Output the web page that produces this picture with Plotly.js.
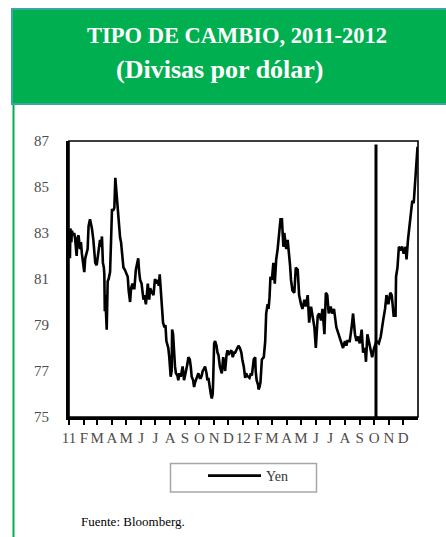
<!DOCTYPE html>
<html>
<head>
<meta charset="utf-8">
<script src="https://cdn.plot.ly/plotly-3.0.1.min.js"></script>
<style>
  html, body { margin: 0; padding: 0; background: #ffffff; }
  #chart { width: 446px; height: 537px; }
</style>
</head>
<body>
<div id="chart"></div>
<script>
// ---------------- DATA ----------------
const seriesName = 'Yen';
const dates = [
  '2011-01-03','2011-01-04','2011-01-06','2011-01-07','2011-01-10','2011-01-12','2011-01-14','2011-01-17','2011-01-19','2011-01-21',
  '2011-01-24','2011-01-26','2011-01-28','2011-02-01','2011-02-02','2011-02-04','2011-02-07','2011-02-09','2011-02-11','2011-02-14',
  '2011-02-16','2011-02-18','2011-02-21','2011-02-23','2011-02-25','2011-02-28','2011-03-02','2011-03-04','2011-03-07','2011-03-09',
  '2011-03-11','2011-03-13','2011-03-15','2011-03-16','2011-03-17','2011-03-18','2011-03-21','2011-03-23','2011-03-25','2011-03-28',
  '2011-03-30','2011-04-01','2011-04-04','2011-04-06','2011-04-08','2011-04-11','2011-04-13','2011-04-15','2011-04-18','2011-04-20',
  '2011-04-22','2011-04-25','2011-04-28','2011-04-30','2011-05-02','2011-05-04','2011-05-06','2011-05-09','2011-05-11','2011-05-14',
  '2011-05-16','2011-05-18','2011-05-21','2011-05-23','2011-05-26','2011-05-28','2011-05-30','2011-06-02','2011-06-04','2011-06-06',
  '2011-06-08','2011-06-11','2011-06-13','2011-06-15','2011-06-18','2011-06-20','2011-06-22','2011-06-24','2011-06-27','2011-06-30',
  '2011-07-03','2011-07-06','2011-07-08','2011-07-10','2011-07-12','2011-07-14','2011-07-17','2011-07-20','2011-07-22','2011-07-24',
  '2011-07-28','2011-07-30','2011-08-01','2011-08-02','2011-08-04','2011-08-05','2011-08-07','2011-08-09','2011-08-11','2011-08-13',
  '2011-08-16','2011-08-18','2011-08-20','2011-08-23','2011-08-25','2011-08-27','2011-08-30','2011-09-01','2011-09-03','2011-09-06',
  '2011-09-08','2011-09-11','2011-09-13','2011-09-15','2011-09-18','2011-09-20','2011-09-22','2011-09-24','2011-09-27','2011-09-29',
  '2011-10-02','2011-10-04','2011-10-06','2011-10-08','2011-10-11','2011-10-13','2011-10-16','2011-10-18','2011-10-20','2011-10-22',
  '2011-10-25','2011-10-27','2011-10-29','2011-10-30','2011-11-01','2011-11-03','2011-11-06','2011-11-08','2011-11-10','2011-11-13',
  '2011-11-15','2011-11-17','2011-11-20','2011-11-22','2011-11-24','2011-11-27','2011-11-29','2011-12-01','2011-12-04','2011-12-07',
  '2011-12-10','2011-12-13','2011-12-15','2011-12-17','2011-12-19','2011-12-22','2011-12-25','2011-12-28','2011-12-30','2012-01-02',
  '2012-01-05','2012-01-07','2012-01-09','2012-01-12','2012-01-14','2012-01-17','2012-01-19','2012-01-23','2012-01-26','2012-01-27',
  '2012-01-29','2012-02-01','2012-02-02','2012-02-04','2012-02-06','2012-02-09','2012-02-13','2012-02-16','2012-02-18','2012-02-21',
  '2012-02-23','2012-02-25','2012-02-27','2012-03-01','2012-03-04','2012-03-07','2012-03-10','2012-03-13','2012-03-16','2012-03-19',
  '2012-03-22','2012-03-25','2012-03-27','2012-03-28','2012-03-31','2012-04-03','2012-04-06','2012-04-08','2012-04-10','2012-04-13',
  '2012-04-17','2012-04-20','2012-04-24','2012-04-27','2012-05-01','2012-05-04','2012-05-08','2012-05-11','2012-05-15','2012-05-18',
  '2012-05-22','2012-05-25','2012-05-29','2012-06-01','2012-06-05','2012-06-08','2012-06-12','2012-06-15','2012-06-19','2012-06-22',
  '2012-06-25','2012-06-28','2012-07-02','2012-07-05','2012-07-09','2012-07-14','2012-07-19','2012-07-23','2012-07-28','2012-08-01',
  '2012-08-04','2012-08-06','2012-08-11','2012-08-15','2012-08-18','2012-08-22','2012-08-25','2012-08-29','2012-09-01','2012-09-05',
  '2012-09-08','2012-09-12','2012-09-14','2012-09-17','2012-09-20','2012-09-24','2012-09-27','2012-10-01','2012-10-06','2012-10-11',
  '2012-10-15','2012-10-20','2012-10-24','2012-10-27','2012-10-31','2012-11-04','2012-11-07','2012-11-11','2012-11-15','2012-11-16',
  '2012-11-19','2012-11-22','2012-11-26','2012-11-29','2012-12-02','2012-12-06','2012-12-08','2012-12-11','2012-12-15','2012-12-17',
  '2012-12-20','2012-12-23','2012-12-26','2012-12-28','2012-12-31'
];
const yen = [
  81.9,83.2,82.6,83.1,82.9,83.0,82.7,82.0,82.8,82.9,
  82.3,82.6,82.1,81.5,81.3,81.9,82.2,82.3,83.3,83.6,
  83.4,83.2,82.7,82.0,81.7,81.6,82.0,82.3,82.7,82.4,
  82.85,81.7,81.5,81.2,79.6,80.3,78.8,80.9,81.0,81.3,
  82.6,84.0,84.0,84.1,85.4,84.6,83.8,83.3,82.8,82.6,
  82.0,81.5,81.4,81.3,81.2,81.1,80.5,80.0,80.6,80.8,
  80.6,80.6,81.4,81.6,81.9,81.3,80.96,80.8,80.5,80.1,
  80.3,79.9,80.3,80.8,80.1,80.6,80.5,80.4,80.3,81.0,
  80.8,80.96,80.7,81.2,80.6,80.4,79.1,78.9,79.0,78.3,
  78.0,77.6,77.2,76.75,77.0,78.8,78.6,77.6,77.2,76.9,
  76.8,76.6,76.9,76.75,77.0,77.2,76.6,76.8,76.9,77.3,
  77.6,77.5,77.2,76.75,76.6,76.3,76.5,76.6,76.8,76.9,
  76.7,76.7,76.8,77.0,77.1,77.2,76.9,76.6,76.7,76.3,
  76.0,75.8,76.0,76.6,78.2,78.3,78.1,77.8,77.7,77.2,
  77.0,76.9,77.6,77.3,77.0,77.7,77.9,77.7,77.8,77.9,
  77.6,77.8,77.8,77.9,78.0,78.1,78.0,77.8,77.5,77.2,
  76.7,76.9,76.8,76.75,76.7,76.9,76.8,77.5,77.6,77.0,
  76.6,76.4,76.2,76.3,76.5,77.5,77.6,78.3,79.5,79.9,
  79.7,80.2,81.1,80.96,81.7,80.8,81.85,82.3,83.1,83.6,
  83.6,82.4,83.0,82.8,82.3,82.7,82.1,81.6,80.96,80.5,
  80.4,81.5,81.4,80.3,79.9,79.7,80.1,79.8,80.3,79.1,
  79.8,79.4,78.9,78.0,79.4,79.5,79.2,79.7,78.6,80.4,
  80.3,79.5,79.8,79.5,79.7,78.9,78.6,78.3,78.0,78.3,
  78.1,78.3,78.3,78.9,79.5,78.6,78.3,78.5,78.2,78.8,
  77.8,78.0,77.4,78.6,78.3,77.8,77.6,78.0,78.3,78.2,
  78.5,79.2,79.7,80.3,79.9,80.4,80.3,79.4,79.4,81.1,
  81.5,82.4,82.3,82.4,82.1,82.4,81.85,82.7,83.4,83.6,
  84.4,84.3,85.2,85.9,86.75
];
const monthLabels = ['11','F','M','A','M','J','J','A','S','O','N','D',
                     '12','F','M','A','M','J','J','A','S','O','N','D'];
const years = [2011, 2012];
const yTicks = [75, 77, 79, 81, 83, 85, 87];
const markerDate = '2012-10-05';
const titleLine1 = 'TIPO DE CAMBIO, 2011-2012';
const titleLine2 = '(Divisas por dólar)';
const sourceText = 'Fuente: Bloomberg.';

// ---------------- LAYOUT HELPERS ----------------
const W = 446, H = 537;
const M = { l: 69, r: 28, t: 141, b: 120 };
const PW = W - M.l - M.r, PH = H - M.t - M.b;
const px = x => (x - M.l) / PW;        // pixel x -> paper
const py = y => (H - M.b - y) / PH;    // pixel y -> paper

const tickVals = [];
years.forEach(yr => { for (let m = 1; m <= 12; m++) tickVals.push(yr + '-' + String(m).padStart(2, '0') + '-01'); });

const serif = 'Liberation Serif';
const green = '#00b050';

const trace = {
  x: dates, y: yen, type: 'scatter', mode: 'lines', name: seriesName,
  line: { color: '#000000', width: 2.6 }, showlegend: true
};

const layout = {
  width: W, height: H,
  margin: M,
  paper_bgcolor: '#ffffff', plot_bgcolor: '#ffffff',
  font: { family: serif },
  showlegend: true,
  legend: {
    x: px(203), y: py(476), xanchor: 'left', yanchor: 'middle',
    bgcolor: 'rgba(0,0,0,0)', borderwidth: 0,
    font: { family: serif, size: 14, color: '#333333' },
    itemwidth: 53
  },
  xaxis: {
    type: 'date', range: ['2011-01-01', '2013-01-01'],
    tickmode: 'array', tickvals: tickVals, ticktext: monthLabels,
    tickangle: 0,
    ticks: 'outside', ticklen: 5, tickwidth: 2, tickcolor: '#000000',
    showgrid: false, zeroline: false,
    showline: true, linecolor: '#000000', linewidth: 2.5,
    tickfont: { family: serif, size: 15, color: '#4d4d4d' }
  },
  yaxis: {
    range: [75, 87], tickmode: 'array', tickvals: yTicks,
    ticks: 'outside', ticklen: 14, tickcolor: 'rgba(0,0,0,0)',
    showgrid: false, zeroline: false,
    showline: true, linecolor: '#000000', linewidth: 3,
    tickfont: { family: serif, size: 15, color: '#4d4d4d' }
  },
  shapes: [
    // header band
    { type: 'rect', xref: 'paper', yref: 'paper', x0: px(12), x1: px(448), y0: py(104), y1: py(9),
      fillcolor: green, line: { color: '#3aa8a2', width: 2 }, layer: 'below' },
    // green left rule of the panel
    { type: 'line', xref: 'paper', yref: 'paper', x0: px(13.5), x1: px(13.5), y0: py(105), y1: py(540),
      line: { color: green, width: 2 } },
    // plot frame
    { type: 'rect', xref: 'paper', yref: 'paper', x0: 0, x1: 1, y0: 0, y1: 1,
      line: { color: '#000000', width: 1.6 } },
    // vertical reference line
    { type: 'line', xref: 'x', yref: 'y', x0: markerDate, x1: markerDate, y0: 75, y1: 86.85,
      line: { color: '#000000', width: 3 } },
    // legend box
    { type: 'rect', xref: 'paper', yref: 'paper', x0: px(170.5), x1: px(316.5), y0: py(492), y1: py(463.5),
      line: { color: '#a6a6a6', width: 1.5 } }
  ],
  annotations: [
    { xref: 'paper', yref: 'paper', x: px(237), y: py(35), xanchor: 'center', yanchor: 'middle',
      text: '<b>' + titleLine1 + '</b>', showarrow: false,
      font: { family: serif, size: 22.5, color: '#ffffff' } },
    { xref: 'paper', yref: 'paper', x: px(220), y: py(70), xanchor: 'center', yanchor: 'middle',
      text: '<b>' + titleLine2 + '</b>', showarrow: false,
      font: { family: serif, size: 26, color: '#ffffff' } },
    { xref: 'paper', yref: 'paper', x: px(79), y: py(521), xanchor: 'left', yanchor: 'middle',
      text: sourceText, showarrow: false,
      font: { family: serif, size: 13, color: '#000000' } }
  ]
};

Plotly.newPlot('chart', [trace], layout, { displayModeBar: false, staticPlot: true });
</script>
</body>
</html>
